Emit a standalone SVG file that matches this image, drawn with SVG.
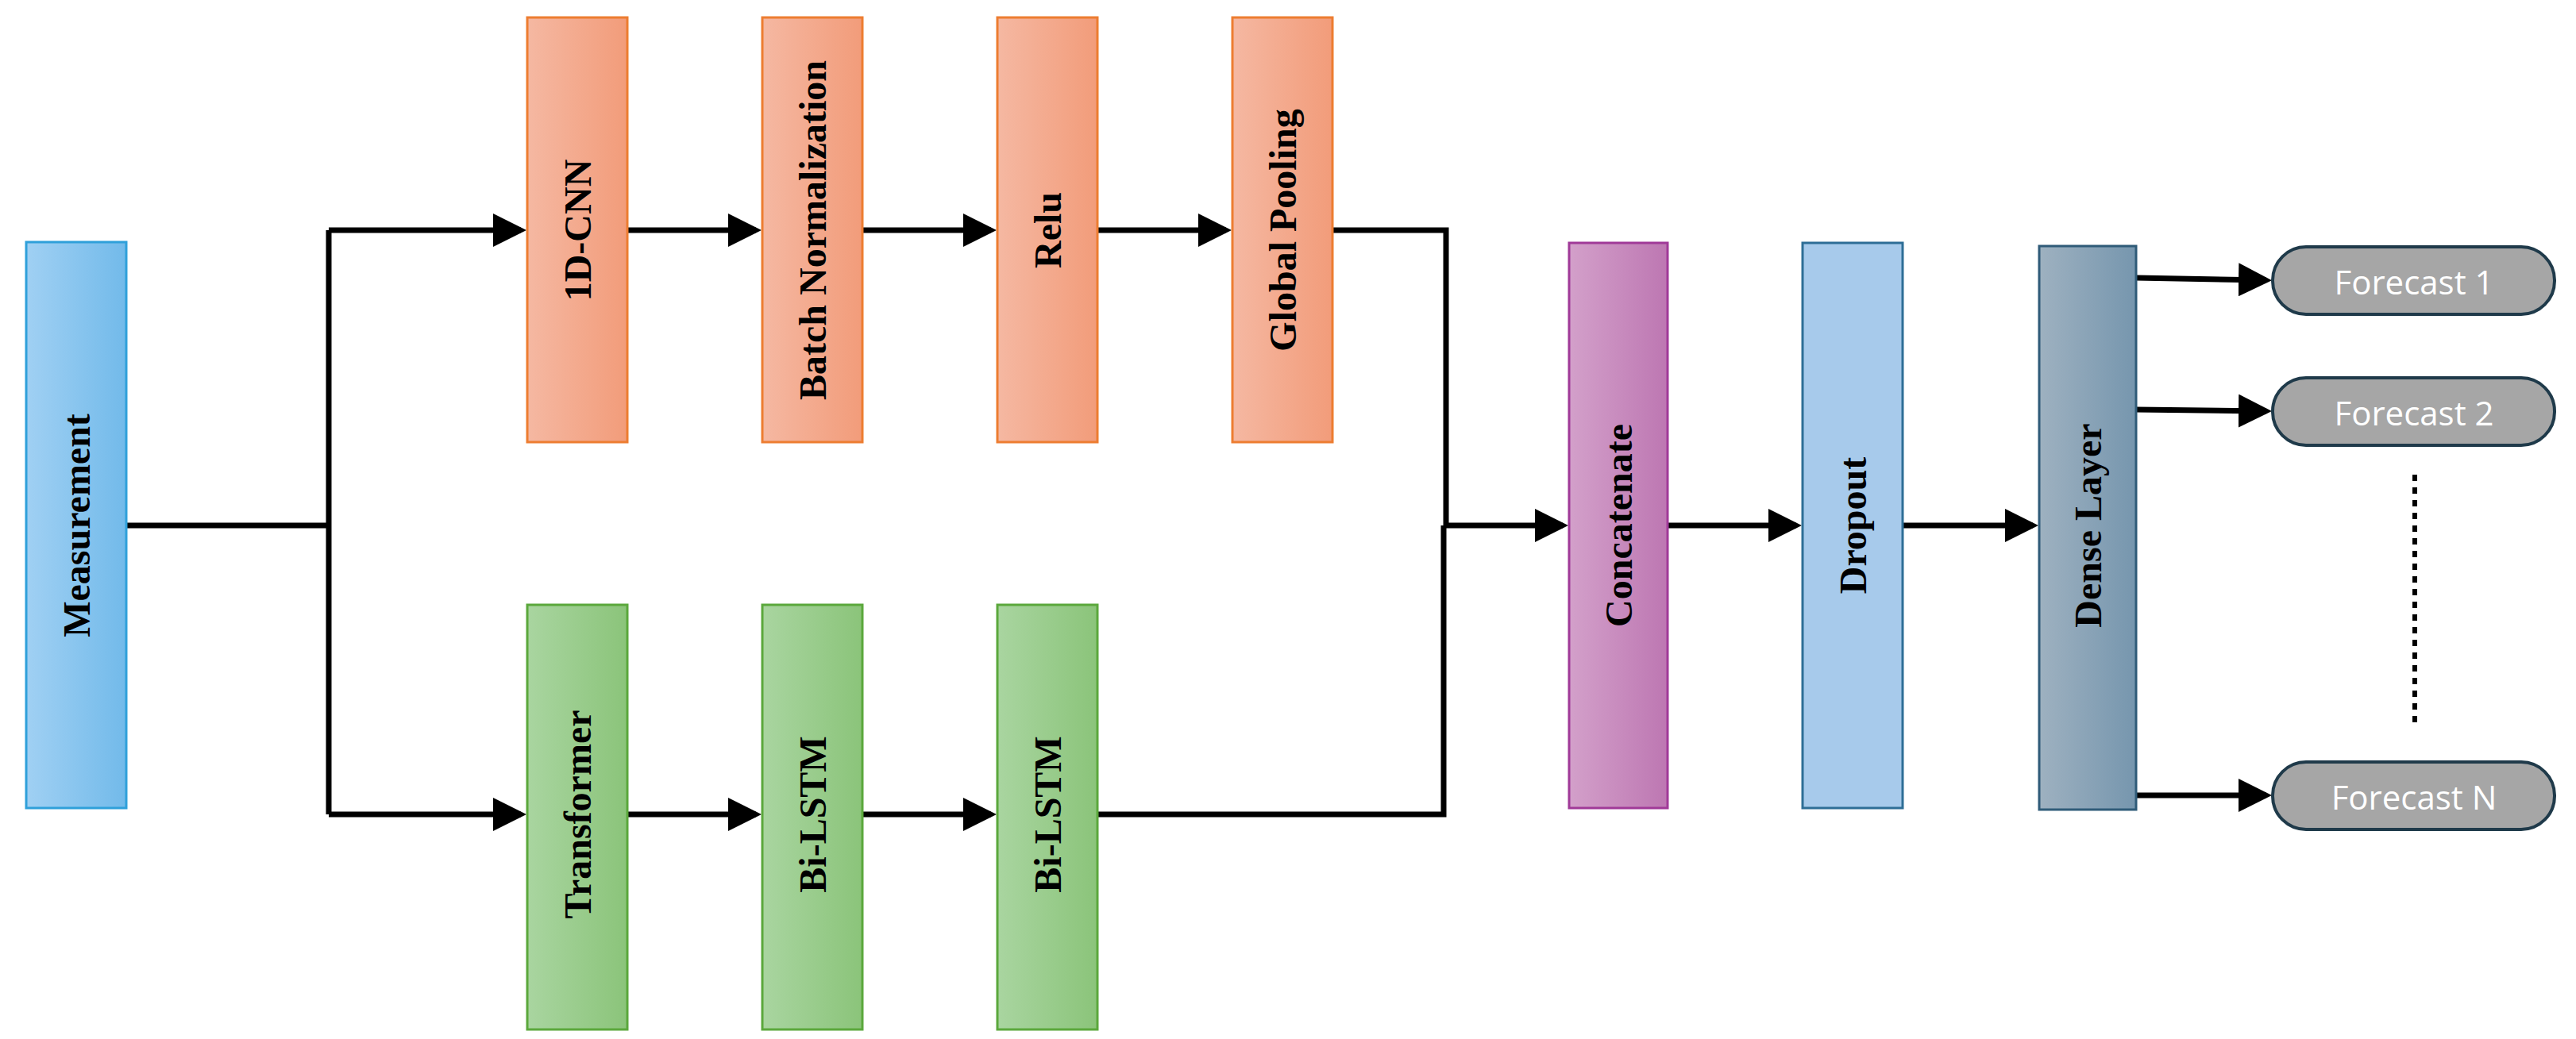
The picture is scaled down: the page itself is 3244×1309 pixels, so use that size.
<svg xmlns="http://www.w3.org/2000/svg" width="3244" height="1309" viewBox="0 0 3244 1309">
<style>
.lbl{font-family:"Liberation Serif",serif;font-weight:bold;font-size:48px;fill:#000;text-anchor:middle;dominant-baseline:central}
.fc{font-family:"Open Sans","Liberation Sans",sans-serif;font-size:42px;fill:#fff;text-anchor:middle;dominant-baseline:central}
.c{fill:none;stroke:#000;stroke-width:7}
.o{fill:url(#gO);stroke:#ED7D31;stroke-width:3}
.g{fill:url(#gG);stroke:#5BA83C;stroke-width:3}
.pill{fill:#A6A6A6;stroke:#1F3A4A;stroke-width:4}
</style>
<defs>
<linearGradient id="gO"><stop offset="0" stop-color="#F5B8A2"/><stop offset="1" stop-color="#F29C7A"/></linearGradient>
<linearGradient id="gG"><stop offset="0" stop-color="#A9D5A0"/><stop offset="1" stop-color="#8BC47A"/></linearGradient>
<linearGradient id="gB"><stop offset="0" stop-color="#A0D0F3"/><stop offset="1" stop-color="#72BAEA"/></linearGradient>
<linearGradient id="gP"><stop offset="0" stop-color="#D3A0CA"/><stop offset="1" stop-color="#BD77B2"/></linearGradient>
<linearGradient id="gD"><stop offset="0" stop-color="#9EB1C0"/><stop offset="1" stop-color="#7696AE"/></linearGradient>
<marker id="ah" markerWidth="6" markerHeight="6" refX="5" refY="3" orient="auto" markerUnits="strokeWidth"><path d="M0,0 L6,3 L0,6 Z" fill="#000"/></marker>
</defs>
<g id="connectors">
<path class="c" d="M159,662 H414"/>
<path class="c" d="M414,290 V1026"/>
<path class="c" d="M414,290 H656" marker-end="url(#ah)"/>
<path class="c" d="M414,1026 H656" marker-end="url(#ah)"/>
<path class="c" d="M790,290 H952" marker-end="url(#ah)"/>
<path class="c" d="M1086,290 H1248" marker-end="url(#ah)"/>
<path class="c" d="M1382,290 H1544" marker-end="url(#ah)"/>
<path class="c" d="M790,1026 H952" marker-end="url(#ah)"/>
<path class="c" d="M1086,1026 H1248" marker-end="url(#ah)"/>
<path class="c" d="M1678,290 H1821 V662"/>
<path class="c" d="M1382,1026 H1818 V662"/>
<path class="c" d="M1818,662 H1968" marker-end="url(#ah)"/>
<path class="c" d="M2100,662 H2262" marker-end="url(#ah)"/>
<path class="c" d="M2396,662 H2560" marker-end="url(#ah)"/>
<path class="c" d="M2690,350 L2854,353" marker-end="url(#ah)"/>
<path class="c" d="M2690,516 L2854,518" marker-end="url(#ah)"/>
<path class="c" d="M2690,1002 H2854" marker-end="url(#ah)"/>
<path d="M3041,598 V910" stroke="#000" stroke-width="6" stroke-dasharray="8,8" fill="none"/>
</g>
<g id="measurement"><rect x="33" y="305" width="126" height="713" fill="url(#gB)" stroke="#2FA0DA" stroke-width="3"/><text class="lbl" transform="translate(96,662) rotate(-90)">Measurement</text></g>
<g id="cnn"><rect class="o" x="664" y="22" width="126" height="535"/><text class="lbl" transform="translate(727,290) rotate(-90)">1D-CNN</text></g>
<g id="batchnorm"><rect class="o" x="960" y="22" width="126" height="535"/><text class="lbl" transform="translate(1023,290) rotate(-90)">Batch Normalization</text></g>
<g id="relu"><rect class="o" x="1256" y="22" width="126" height="535"/><text class="lbl" transform="translate(1319,290) rotate(-90)">Relu</text></g>
<g id="globalpool"><rect class="o" x="1552" y="22" width="126" height="535"/><text class="lbl" transform="translate(1615,290) rotate(-90)">Global Pooling</text></g>
<g id="transformer"><rect class="g" x="664" y="762" width="126" height="535"/><text class="lbl" transform="translate(727,1026) rotate(-90)">Transformer</text></g>
<g id="bilstm1"><rect class="g" x="960" y="762" width="126" height="535"/><text class="lbl" transform="translate(1023,1026) rotate(-90)">Bi-LSTM</text></g>
<g id="bilstm2"><rect class="g" x="1256" y="762" width="126" height="535"/><text class="lbl" transform="translate(1319,1026) rotate(-90)">Bi-LSTM</text></g>
<g id="concatenate"><rect x="1976" y="306" width="124" height="712" fill="url(#gP)" stroke="#A03A98" stroke-width="3"/><text class="lbl" transform="translate(2038,662) rotate(-90)">Concatenate</text></g>
<g id="dropout"><rect x="2270" y="306" width="126" height="712" fill="#A7CAEB" stroke="#2E6E96" stroke-width="3"/><text class="lbl" transform="translate(2333,662) rotate(-90)">Dropout</text></g>
<g id="dense"><rect x="2568" y="310" width="122" height="710" fill="url(#gD)" stroke="#2F5B78" stroke-width="3"/><text class="lbl" transform="translate(2629,662) rotate(-90)">Dense Layer</text></g>
<g id="forecast1"><rect class="pill" x="2862" y="311" width="355" height="85" rx="42"/><text class="fc" x="3040" y="354">Forecast 1</text></g>
<g id="forecast2"><rect class="pill" x="2862" y="476" width="355" height="85" rx="42"/><text class="fc" x="3040" y="519">Forecast 2</text></g>
<g id="forecastN"><rect class="pill" x="2862" y="960" width="355" height="85" rx="42"/><text class="fc" x="3040" y="1003">Forecast N</text></g>
</svg>
